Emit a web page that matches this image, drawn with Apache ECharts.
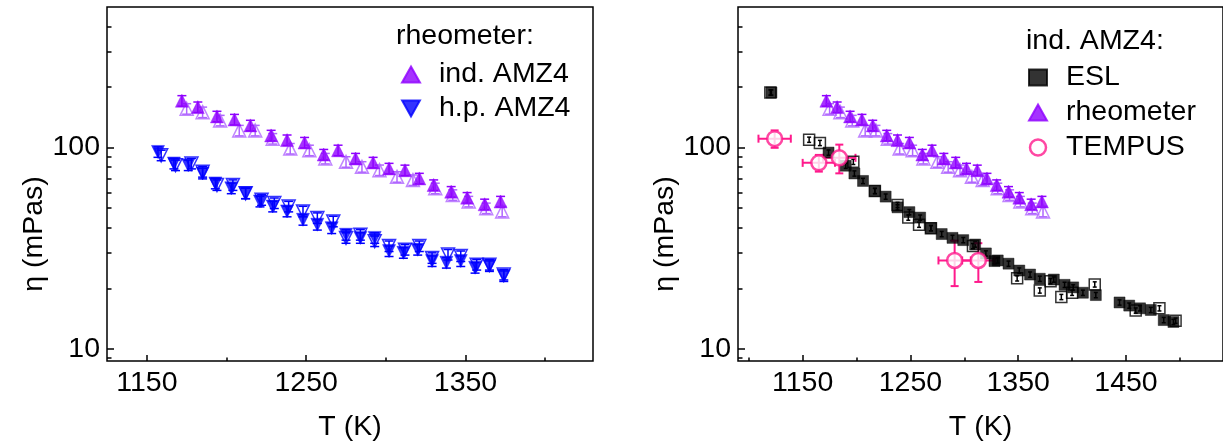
<!DOCTYPE html>
<html>
<head>
<meta charset="utf-8">
<script src="https://cdn.jsdelivr.net/npm/echarts@6/dist/echarts.min.js"></script>
<style>
  html, body { margin: 0; padding: 0; background: #fff; }
  #chart { width: 1223px; height: 447px; }
</style>
</head>
<body>
<div id="chart"></div>
<script>
// ---- Viscosity data: [T (K), eta (mPas)] ----
// Rheometer, inductively melted AMZ4 (filled = run 1, open = run 2)
const rheoIndRun1 = [[1172,171],[1182,159],[1194,143],[1205,138],[1215,129],[1228,115],[1238,109],[1249,106],[1261,92.4],[1270,97],[1281,88.3],[1292,84.4],[1302,78.8],[1312,77.2],[1321,70.3],[1330,65.2],[1341,60.4],[1351,56.4],[1362,52.3],[1372,54]];
const rheoIndRun2 = [[1175,156],[1185,150],[1196,136.5],[1208,121.7],[1218,121.7],[1229,110.8],[1240,98.9],[1252,97],[1262,88.3],[1275,85],[1285,80.3],[1296,77.3],[1307,71.6],[1317,69],[1331,62.8],[1342,58.2],[1352,54],[1363,50],[1373,48.2]];
// Rheometer, high-purity AMZ4
const rheoHpRun1 = [[1157,95.2],[1167,83.4],[1176,81.8],[1185,74.4],[1193,66.4],[1203,62.8],[1212,59.3],[1221,54],[1229,51],[1238,48.2],[1248,43.8],[1257,41.4],[1266,39.8],[1275,36.9],[1284,35.6],[1293,35.6],[1302,30.6],[1311,30],[1320,31.1],[1329,27.3],[1338,26.8],[1347,27.3],[1356,25.3],[1365,25.8],[1374,23]];
const rheoHpRun2 = [[1159,91.6],[1168,81.8],[1178,83.4],[1185,75.9],[1194,65.2],[1204,65.2],[1212,59.3],[1222,55],[1230,53],[1239,51],[1248,48.2],[1257,44.7],[1267,43],[1275,35.6],[1284,36.9],[1293,34.3],[1302,32.4],[1312,31.1],[1321,32.4],[1329,28.3],[1339,29.4],[1347,28.9],[1357,26.2],[1365,26.2],[1374,23.4]];
// Electrostatic levitation, inductively melted AMZ4
const eslRun1 = [[1121,188],[1174,94.5],[1190,81.3],[1198,74.4],[1206,68.3],[1217,60.9],[1227,57.1],[1238,50.5],[1249,47.8],[1259,44.9],[1269,39.8],[1279,37.2],[1289,35.6],[1299,34.7],[1310,33],[1320,29.8],[1328,27.3],[1331,27.5],[1341,26.5],[1351,24.5],[1361,23.4],[1370,22.3],[1383,22.1],[1393,20.8],[1401,20.2],[1410,19],[1422,18.5],[1444,17],[1453,16.4],[1463,15.9],[1473,15.6],[1485,13.9],[1494,13.6]];
const eslRun2 = [[1120,188],[1156,109.5],[1166,105.5],[1197,85],[1217,60.9],[1238,51.9],[1248,44.9],[1258,41.4],[1269,39.8],[1308,32.4],[1349,22.4],[1370,19.5],[1380,21.7],[1390,18.1],[1400,19],[1421,20.9],[1459,15.5],[1481,15.9],[1496,13.8]];
// TEMPUS: [T, eta, T error, eta error]
const tempus = [[1124,110.8,15,11],[1165,84,15,8],[1184,89,15,14.5],[1291,27.5,15,7],[1313,27.5,15,6]];

// Relative uncertainties of the rheometer and ESL viscosities
const rheoRelErr = 0.06;
const eslRelErr = 0.03;

// Axis ticks
const leftMajorT = [1150, 1250, 1350];
const leftMinorT = [1200, 1300, 1400];
const rightMajorT = [1150, 1250, 1350, 1450];
const rightMinorT = [1100, 1200, 1300, 1400, 1500];
const etaMajor = [10, 100];
const etaMinor = [9, 20, 30, 40, 50, 60, 70, 80, 90, 200, 300, 400];

const VIOLET = '#8f00ff';
const VIOLET_LIGHT = '#b066ff';
const BLUE = '#0000ff';
const PINK = '#ff1a8c';
const FONT = 'Liberation Sans, Arial, sans-serif';
const FS = 28.5;

function errorBars(name, pts, relErr, color, xi, yi, capW) {
  return {
    type: 'custom', name: name, xAxisIndex: xi, yAxisIndex: yi, silent: true, z: 1,
    data: pts.map(p => [p[0], p[1] * (1 - relErr), p[1] * (1 + relErr)]),
    encode: { x: 0, y: [1, 2] },
    renderItem: function (params, api) {
      const x = api.value(0);
      const lo = api.coord([x, api.value(1)]);
      const hi = api.coord([x, api.value(2)]);
      const hw = capW / 2;
      const st = { stroke: color, lineWidth: 1.5 };
      return { type: 'group', children: [
        { type: 'line', shape: { x1: lo[0], y1: lo[1], x2: hi[0], y2: hi[1] }, style: st },
        { type: 'line', shape: { x1: lo[0] - hw, y1: lo[1], x2: lo[0] + hw, y2: lo[1] }, style: st },
        { type: 'line', shape: { x1: hi[0] - hw, y1: hi[1], x2: hi[0] + hw, y2: hi[1] }, style: st }
      ]};
    }
  };
}

function xyErrorBars(name, pts, color, xi, yi, capW) {
  return {
    type: 'custom', name: name, xAxisIndex: xi, yAxisIndex: yi, silent: true, z: 1,
    data: pts.map(p => [p[0], p[1], p[0] - p[2], p[0] + p[2], p[1] - p[3], p[1] + p[3]]),
    encode: { x: [0, 2, 3], y: [1, 4, 5] },
    renderItem: function (params, api) {
      const x = api.value(0), y = api.value(1);
      const l = api.coord([api.value(2), y]);
      const r = api.coord([api.value(3), y]);
      const b = api.coord([x, api.value(4)]);
      const t = api.coord([x, api.value(5)]);
      const hw = capW / 2;
      const st = { stroke: color, lineWidth: 2 };
      return { type: 'group', children: [
        { type: 'line', shape: { x1: l[0], y1: l[1], x2: r[0], y2: r[1] }, style: st },
        { type: 'line', shape: { x1: l[0], y1: l[1] - hw, x2: l[0], y2: l[1] + hw }, style: st },
        { type: 'line', shape: { x1: r[0], y1: r[1] - hw, x2: r[0], y2: r[1] + hw }, style: st },
        { type: 'line', shape: { x1: b[0], y1: b[1], x2: t[0], y2: t[1] }, style: st },
        { type: 'line', shape: { x1: b[0] - hw, y1: b[1], x2: b[0] + hw, y2: b[1] }, style: st },
        { type: 'line', shape: { x1: t[0] - hw, y1: t[1], x2: t[0] + hw, y2: t[1] }, style: st }
      ]};
    }
  };
}

function scatter(name, pts, symbol, size, color, filled, xi, yi, rotate) {
  return {
    type: 'scatter', name: name, xAxisIndex: xi, yAxisIndex: yi, z: 3,
    symbol: symbol, symbolSize: size, symbolRotate: rotate || 0,
    data: pts.map(p => [p[0], p[1]]),
    itemStyle: filled
      ? { color: color, borderColor: color, borderWidth: 0.5 }
      : { color: 'rgba(255,255,255,0)', borderColor: color, borderWidth: 1.5 }
  };
}

const plainLabel = v => String(v);

function xAxisPair(grid, min, max, major, minor) {
  const base = { gridIndex: grid, type: 'value', position: 'bottom', min: min, max: max,
    axisLine: { show: false, onZero: false }, splitLine: { show: false } };
  return [
    Object.assign({}, base, {
      name: 'T (K)', nameLocation: 'middle', nameGap: 52,
      nameTextStyle: { fontFamily: FONT, fontSize: FS, color: '#000' },
      axisTick: { show: true, inside: true, length: 6, customValues: major, lineStyle: { color: '#000', width: 1.5 } },
      axisLabel: { show: true, customValues: major, formatter: plainLabel, margin: 8, fontFamily: FONT, fontSize: FS, color: '#000' }
    }),
    Object.assign({}, base, {
      axisTick: { show: true, inside: true, length: 3.5, customValues: minor, lineStyle: { color: '#000', width: 1.5 } },
      axisLabel: { show: false }
    })
  ];
}

function yAxisPair(grid) {
  const base = { gridIndex: grid, type: 'log', logBase: 10, position: 'left', min: 8.7, max: 500,
    axisLine: { show: false, onZero: false }, splitLine: { show: false } };
  return [
    Object.assign({}, base, {
      name: 'η (mPas)', nameLocation: 'middle', nameGap: 58,
      nameTextStyle: { fontFamily: FONT, fontSize: FS, color: '#000', padding: [0, 100, 0, 0] },
      axisTick: { show: true, inside: true, length: 7, customValues: etaMajor, lineStyle: { color: '#000', width: 1.5 } },
      axisLabel: { show: true, customValues: etaMajor, formatter: plainLabel, margin: 7, fontFamily: FONT, fontSize: FS, color: '#000' }
    }),
    Object.assign({}, base, {
      axisTick: { show: true, inside: true, length: 4.5, customValues: etaMinor, lineStyle: { color: '#000', width: 1.5 } },
      axisLabel: { show: false }
    })
  ];
}

const legendText = { fontFamily: FONT, fontSize: FS, color: '#000', padding: [0, 0, 0, 14] };

const option = {
  animation: false,
  backgroundColor: '#fff',
  grid: [
    { left: 107, top: 7, width: 486, height: 357, show: true, borderColor: '#000', borderWidth: 1.5, backgroundColor: 'transparent' },
    { left: 738, top: 7, width: 486, height: 357, show: true, borderColor: '#000', borderWidth: 1.5, backgroundColor: 'transparent' }
  ],
  xAxis: [].concat(
    xAxisPair(0, 1125, 1430, leftMajorT, leftMinorT),
    xAxisPair(1, 1090, 1540, rightMajorT, rightMinorT)
  ),
  yAxis: [].concat(yAxisPair(0), yAxisPair(1)),
  graphic: [
    { type: 'text', left: 396, top: 22, style: { text: 'rheometer:', font: FS + 'px ' + FONT, fill: '#000' } },
    { type: 'text', left: 1026, top: 27, style: { text: 'ind. AMZ4:', font: FS + 'px ' + FONT, fill: '#000' } }
  ],
  legend: [
    {
      left: 396, top: 55, orient: 'vertical', itemGap: 5, itemWidth: 18, itemHeight: 16,
      textStyle: legendText,
      data: [
        { name: 'ind. AMZ4', icon: 'triangle', itemStyle: { color: VIOLET } },
        { name: 'h.p. AMZ4', icon: 'path://M0,0 L10,0 L5,9 Z', itemStyle: { color: BLUE } }
      ]
    },
    {
      left: 1023, top: 58, orient: 'vertical', itemGap: 6, itemWidth: 18, itemHeight: 16,
      textStyle: legendText,
      data: [
        { name: 'ESL', icon: 'rect', itemStyle: { color: '#000' } },
        { name: 'rheometer', icon: 'triangle', itemStyle: { color: VIOLET } },
        { name: 'TEMPUS', icon: 'circle', itemStyle: { color: '#fff', borderColor: PINK, borderWidth: 2.5 } }
      ]
    }
  ],
  series: [
    // left panel (axes 0)
    errorBars('ind. AMZ4 err 1', rheoIndRun1, rheoRelErr, VIOLET, 0, 0, 9),
    errorBars('ind. AMZ4 err 2', rheoIndRun2, rheoRelErr, VIOLET_LIGHT, 0, 0, 9),
    errorBars('h.p. AMZ4 err 1', rheoHpRun1, rheoRelErr, BLUE, 0, 0, 9),
    errorBars('h.p. AMZ4 err 2', rheoHpRun2, rheoRelErr, BLUE, 0, 0, 9),
    scatter('ind. AMZ4 run 2', rheoIndRun2, 'triangle', 13, VIOLET_LIGHT, false, 0, 0),
    scatter('ind. AMZ4', rheoIndRun1, 'triangle', 13, VIOLET, true, 0, 0),
    scatter('h.p. AMZ4 run 2', rheoHpRun2, 'triangle', 13, BLUE, false, 0, 0, 180),
    scatter('h.p. AMZ4', rheoHpRun1, 'triangle', 13, BLUE, true, 0, 0, 180),
    // right panel (axes 2)
    errorBars('rheometer err 1', rheoIndRun1, rheoRelErr, VIOLET, 2, 2, 9),
    errorBars('rheometer err 2', rheoIndRun2, rheoRelErr, VIOLET_LIGHT, 2, 2, 9),
    errorBars('ESL err 1', eslRun1, eslRelErr, '#000', 2, 2, 4),
    errorBars('ESL err 2', eslRun2, eslRelErr, '#000', 2, 2, 4),
    scatter('rheometer run 2', rheoIndRun2, 'triangle', 13, VIOLET_LIGHT, false, 2, 2),
    scatter('rheometer', rheoIndRun1, 'triangle', 13, VIOLET, true, 2, 2),
    scatter('ESL run 2', eslRun2, 'rect', 11, '#000', false, 2, 2),
    scatter('ESL', eslRun1, 'rect', 11, '#000', true, 2, 2),
    xyErrorBars('TEMPUS err', tempus, PINK, 2, 2, 8),
    {
      type: 'scatter', name: 'TEMPUS', xAxisIndex: 2, yAxisIndex: 2, z: 4,
      symbol: 'circle', symbolSize: 15,
      data: tempus.map(p => [p[0], p[1]]),
      itemStyle: { color: '#fff', borderColor: PINK, borderWidth: 2.5 }
    }
  ]
};

const chart = echarts.init(document.getElementById('chart'), null, { renderer: 'canvas' });
chart.setOption(option);
</script>
</body>
</html>
